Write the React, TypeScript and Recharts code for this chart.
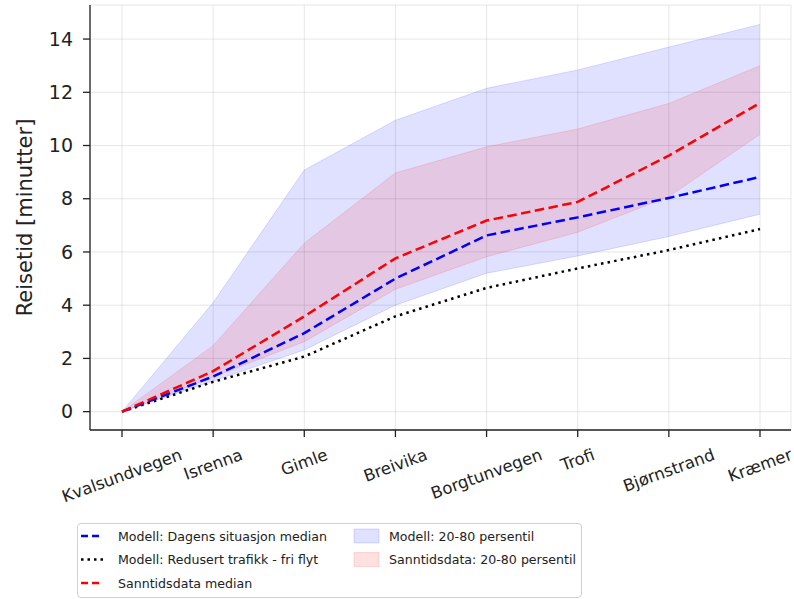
import { ComposedChart, Line, Area, XAxis, YAxis, CartesianGrid } from 'recharts'

const stops = ['Kvalsundvegen', 'Isrenna', 'Gimle', 'Breivika', 'Borgtunvegen', 'Trofi', 'Bjørnstrand', 'Kræmer']

const modelMedian = [0, 1.32, 2.95, 5.0, 6.62, 7.3, 8.03, 8.82]
const freeFlow    = [0, 1.12, 2.07, 3.58, 4.65, 5.38, 6.07, 6.86]
const realMedian  = [0, 1.52, 3.58, 5.76, 7.18, 7.88, 9.62, 11.6]
const modelLow    = [0, 1.15, 2.32, 4.0, 5.2, 5.85, 6.58, 7.42]
const modelHigh   = [0, 4.1, 9.08, 10.95, 12.15, 12.84, 13.7, 14.55]
const realLow     = [0, 1.3, 2.63, 4.6, 5.82, 6.74, 8.08, 10.42]
const realHigh    = [0, 2.48, 6.33, 8.97, 9.95, 10.62, 11.58, 13.0]

const yTicks = [0, 2, 4, 6, 8, 10, 12, 14]

const data = stops.map((s, i) => ({
  stop:        s,
  modelMedian: modelMedian[i],
  freeFlow:    freeFlow[i],
  realMedian:  realMedian[i],
  modelBand:   [modelLow[i], modelHigh[i]],
  realBand:    [realLow[i], realHigh[i]],
}))

const FONT = '"DejaVu Sans", sans-serif'
const XF = 16.5
const INK = '#222'

let measureCtx: CanvasRenderingContext2D | null = null
function textWidth(t: string, size: number) {
  if (!measureCtx) measureCtx = document.createElement('canvas').getContext('2d')
  if (!measureCtx) return t.length * size * 0.6
  measureCtx.font = `${size}px ${FONT}`
  return measureCtx.measureText(t).width
}

// rotated tick label, matplotlib style (rotation=20, centred on the tick)
// eslint-disable-next-line @typescript-eslint/no-explicit-any
function XTick({ x, y, payload }: any) {
  const a = (20 * Math.PI) / 180
  const w = textWidth(payload.value, XF)
  const h = w * Math.sin(a) + XF * 1.17 * Math.cos(a)
  const cy = y + 8 + h / 2
  return (
    <text
      x={x}
      y={cy}
      textAnchor="middle"
      dominantBaseline="central"
      transform={`rotate(-20, ${x}, ${cy})`}
      fontFamily={FONT}
      fontSize={XF}
      fill={INK}
    >
      {payload.value}
    </text>
  )
}

function LegendBox() {
  const row = (i: number) => 12 + i * 23.5
  return (
    <div
      style={{
        position: 'absolute', left: 77, top: 523, width: 503, height: 73,
        border: '1px solid #d0d0d0', borderRadius: 4, background: 'rgba(255,255,255,0.8)',
        fontFamily: FONT, fontSize: 12.6, color: INK,
      }}
    >
      <svg width={503} height={73} style={{ position: 'absolute', left: 0, top: 0 }}>
        <line x1={3} x2={25} y1={row(0)} y2={row(0)} stroke="#0000ff" strokeWidth={2.5} strokeDasharray="7 4" />
        <line x1={3} x2={25} y1={row(1)} y2={row(1)} stroke="#000" strokeWidth={2.5} strokeDasharray="2.5 4" />
        <line x1={3} x2={25} y1={row(2)} y2={row(2)} stroke="#ff0000" strokeWidth={2.5} strokeDasharray="7 4" />
        <rect x={276} y={row(0) - 7} width={25} height={14} fill="#0000ff" fillOpacity={0.12} stroke="#0000ff" strokeOpacity={0.12} />
        <rect x={276} y={row(1) - 7} width={25} height={14} fill="#ff0000" fillOpacity={0.12} stroke="#ff0000" strokeOpacity={0.12} />
        <g fontFamily={FONT} fontSize={12.6} fill={INK} dominantBaseline="central">
          <text x={40} y={row(0)}>Modell: Dagens situasjon median</text>
          <text x={40} y={row(1)}>Modell: Redusert trafikk - fri flyt</text>
          <text x={40} y={row(2)}>Sanntidsdata median</text>
          <text x={311} y={row(0)}>Modell: 20-80 persentil</text>
          <text x={311} y={row(1)}>Sanntidsdata: 20-80 persentil</text>
        </g>
      </svg>
    </div>
  )
}

export default function App() {
  return (
    <div style={{ position: 'absolute', left: 0, top: 0, width: 794, height: 599, background: '#fff' }}>
      <ComposedChart width={794} height={599} data={data} margin={{ top: 5, right: 3, left: 0, bottom: 0 }}>
        <CartesianGrid stroke="#b0b0b0" strokeOpacity={0.3} strokeWidth={1} />
        <XAxis
          dataKey="stop"
          height={169}
          padding={{ left: 32, right: 31 }}
          interval={0}
          tickSize={7}
          tickMargin={0}
          tickLine={{ stroke: INK, strokeWidth: 1.3 }}
          axisLine={{ stroke: INK, strokeWidth: 1.3 }}
          tick={<XTick />}
        />
        <XAxis xAxisId="top" orientation="top" height={0} tick={false} tickLine={false} axisLine={{ stroke: INK, strokeWidth: 1.3 }} />
        <YAxis
          width={90}
          domain={[-0.69, 15.28]}
          ticks={yTicks}
          allowDataOverflow
          tickSize={7}
          tickMargin={10}
          tickLine={{ stroke: INK, strokeWidth: 1.3 }}
          axisLine={{ stroke: INK, strokeWidth: 1.3 }}
          tick={{ fontFamily: FONT, fontSize: 19, fill: INK }}
          label={{
            content: () => (
              <text
                x={32}
                y={217.5}
                textAnchor="middle"
                transform="rotate(-90, 32, 217.5)"
                fontFamily={FONT}
                fontSize={21}
                fill={INK}
              >
                Reisetid [minutter]
              </text>
            ),
          }}
        />
        <YAxis yAxisId="right" orientation="right" width={0} domain={[-0.69, 15.28]} tick={false} tickLine={false} axisLine={{ stroke: INK, strokeWidth: 1.3 }} />
        <Area
          type="linear"
          dataKey="modelBand"
          fill="#0000ff"
          fillOpacity={0.12}
          stroke="#0000ff"
          strokeOpacity={0.12}
          strokeWidth={1}
          isAnimationActive={false}
        />
        <Area
          type="linear"
          dataKey="realBand"
          fill="#ff0000"
          fillOpacity={0.11}
          stroke="#ff0000"
          strokeOpacity={0.12}
          strokeWidth={1}
          isAnimationActive={false}
        />
        <Line type="linear" dataKey="freeFlow" stroke="#000" strokeWidth={2.5} strokeDasharray="2.5 4.2" dot={false} isAnimationActive={false} />
        <Line type="linear" dataKey="modelMedian" stroke="#0000ff" strokeWidth={2.5} strokeDasharray="9.5 4.5" dot={false} isAnimationActive={false} />
        <Line type="linear" dataKey="realMedian" stroke="#ff0000" strokeWidth={2.5} strokeDasharray="9.5 4.5" dot={false} isAnimationActive={false} />
      </ComposedChart>
      <LegendBox />
    </div>
  )
}
